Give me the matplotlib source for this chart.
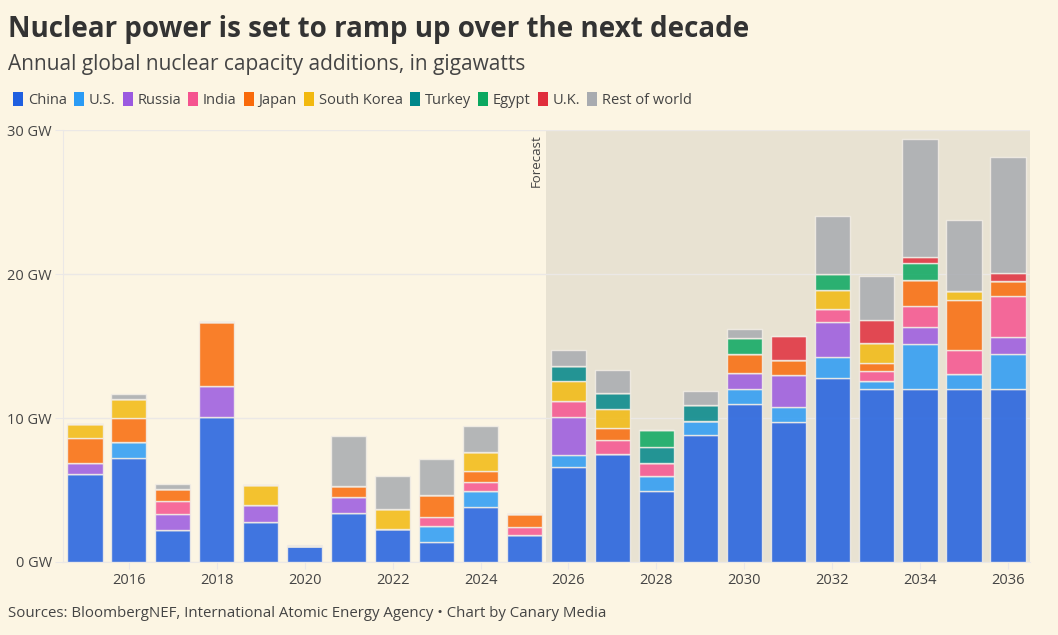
import numpy as np
import matplotlib
matplotlib.use("Agg")
import matplotlib.pyplot as plt
from matplotlib.patches import Patch

plt.rcParams['font.family'] = ['Open Sans', 'DejaVu Sans']

# capacity additions in GW
years = list(range(2015, 2037))
china   = [6.1, 7.2, 2.2, 10.1, 2.8, 1.1, 3.4, 2.3, 1.4, 3.8, 1.85, 6.6, 7.5, 4.95, 8.85, 11.0, 9.7, 12.75, 12.0, 12.0, 12.0, 12.0]
us      = [0, 1.15, 0, 0, 0, 0, 0, 0, 1.1, 1.1, 0, 0.8, 0, 1.05, 0.95, 1.0, 1.05, 1.5, 0.6, 3.15, 1.05, 2.45]
russia  = [0.8, 0, 1.1, 2.1, 1.15, 0, 1.1, 0, 0, 0, 0, 2.7, 0, 0, 0, 1.15, 2.25, 2.4, 0, 1.2, 0, 1.2]
india   = [0, 0, 0.95, 0, 0, 0, 0, 0, 0.6, 0.65, 0.6, 1.1, 0.95, 0.9, 0, 0, 0, 0.9, 0.7, 1.4, 1.65, 2.8]
japan   = [1.7, 1.65, 0.85, 4.5, 0, 0, 0.8, 0, 1.55, 0.8, 0.85, 0, 0.85, 0, 0, 1.3, 1.05, 0, 0.55, 1.85, 3.5, 1.1]
s_korea = [1.0, 1.35, 0, 0, 1.4, 0, 0, 1.35, 0, 1.3, 0, 1.35, 1.35, 0, 0, 0, 0, 1.35, 1.35, 0, 0.65, 0]
turkey  = [0, 0, 0, 0, 0, 0, 0, 0, 0, 0, 0, 1.1, 1.1, 1.1, 1.1, 0, 0, 0, 0, 0, 0, 0]
egypt   = [0, 0, 0, 0, 0, 0, 0, 0, 0, 0, 0, 0, 0, 1.15, 0, 1.1, 0, 1.1, 0, 1.15, 0, 0]
uk      = [0, 0, 0, 0, 0, 0, 0, 0, 0, 0, 0, 0, 0, 0, 0, 0, 1.65, 0, 1.6, 0.45, 0, 0.5]
rest    = [0, 0.35, 0.3, 0, 0, 0.1, 3.45, 2.35, 2.5, 1.8, 0, 1.1, 1.6, 0, 0.95, 0.65, 0, 4.05, 3.1, 8.2, 4.9, 8.1]

names = ["China", "U.S.", "Russia", "India", "Japan", "South Korea",
         "Turkey", "Egypt", "U.K.", "Rest of world"]
series = [china, us, russia, india, japan, s_korea, turkey, egypt, uk, rest]
colors = ["#1f5fe0", "#2a9bf5", "#9b59e0", "#f5538f", "#f96a0a", "#f2b90f",
          "#00878a", "#0aa860", "#e02d3c", "#a8abb0"]

bg = "#fcf5e3"
shade = "#e8e2d2"

fig = plt.figure(figsize=(10.58, 6.35), dpi=100, facecolor=bg)
ax = fig.add_axes([0.0595, 0.115, 0.914, 0.68])
ax.set_facecolor(bg)

ax.axvspan(2025.5, 2036.5, color=shade, zorder=0, lw=0)
ax.text(2025.27, 29.7, "Forecast", rotation=90, ha="center", va="top",
        fontsize=9.5, color="#444444")

x = np.array(years)
bottom = np.zeros(len(years))
for vals, col in zip(series, colors):
    v = np.array(vals)
    ax.bar(x, v, width=0.8, bottom=bottom, color=col, alpha=0.85,
           edgecolor="#f3eee6", linewidth=1.0, zorder=3)
    bottom += v

ax.set_xlim(2014.5, 2036.5)
ax.set_ylim(0, 30)
ax.set_yticks([0, 10, 20, 30])
ax.set_yticklabels(["0 GW", "10 GW", "20 GW", "30 GW"])
ax.set_xticks(range(2016, 2037, 2))
ax.grid(axis="y", color="#ebe8e6", linewidth=1, zorder=1)
ax.grid(axis="x", visible=False)
for s in ["top", "right"]:
    ax.spines[s].set_visible(False)
ax.spines["left"].set_color("#ebe8e6")
ax.spines["bottom"].set_color("#ebe8e6")
ax.tick_params(axis="y", length=6, color="#ebe8e6", labelsize=10.5, labelcolor="#444444", pad=2)
ax.tick_params(axis="x", length=5, color="#ebe8e6", labelsize=10.5, labelcolor="#444444", pad=3)

fig.text(0.008, 0.942, "Nuclear power is set to ramp up over the next decade",
         fontsize=20, fontweight="bold", color="#333333", va="baseline")
fig.text(0.008, 0.889, "Annual global nuclear capacity additions, in gigawatts",
         fontsize=15, color="#444444", va="baseline")

handles = [Patch(facecolor=c, edgecolor="none") for c in colors]
fig.legend(handles, names, loc="upper left", bbox_to_anchor=(0.0, 0.875),
           ncol=10, frameon=False, fontsize=10.5, handlelength=0.7,
           handleheight=1.1, handletextpad=0.3, columnspacing=0.5,
           labelcolor="#444444")

fig.text(0.008, 0.028, "Sources: BloombergNEF, International Atomic Energy Agency \u2022 Chart by Canary Media",
         fontsize=10.8, color="#444444", va="baseline")

fig.savefig("out.png", dpi=100, facecolor=bg)
